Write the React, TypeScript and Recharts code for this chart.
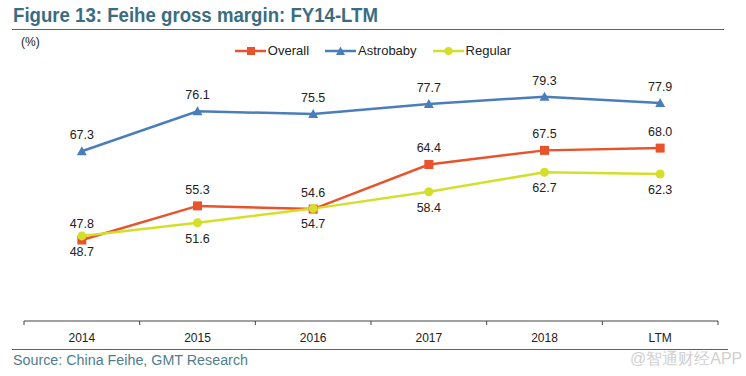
import { LineChart, Line, XAxis, YAxis, LabelList } from 'recharts'

const YEARS = ['2014', '2015', '2016', '2017', '2018', 'LTM']
const OVERALL = [47.8, 55.3, 54.6, 64.4, 67.5, 68.0]
const ASTROBABY = [67.3, 76.1, 75.5, 77.7, 79.3, 77.9]
const REGULAR = [48.7, 51.6, 54.7, 58.4, 62.7, 62.3]

const COLORS = {
  overall: '#e8532b',
  astrobaby: '#4a7ebb',
  regular: '#d3df2a'
}

const TEAL = '#3b6d82'
const W = 746
const H = 376
const PLOT_LEFT = 24
const PLOT_RIGHT = 718
const STEP = (PLOT_RIGHT - PLOT_LEFT) / YEARS.length

const data = YEARS.map((year, i) => ({
  year,
  overall: OVERALL[i],
  astrobaby: ASTROBABY[i],
  regular: REGULAR[i]
}))

const fmt = (v: number) => v.toFixed(1)

function Square(props: any) {
  const { cx, cy } = props
  if (cx == null || cy == null) return null
  return <rect x={cx - 4.5} y={cy - 4.5} width={9} height={9} fill={COLORS.overall} />
}

function Triangle(props: any) {
  const { cx, cy } = props
  if (cx == null || cy == null) return null
  return (
    <path d={`M${cx},${cy - 5} L${cx + 5},${cy + 4} L${cx - 5},${cy + 4} Z`} fill={COLORS.astrobaby} />
  )
}

function Circle(props: any) {
  const { cx, cy } = props
  if (cx == null || cy == null) return null
  return <circle cx={cx} cy={cy} r={4.5} fill={COLORS.regular} />
}

function YearTick(props: any) {
  const { x, y, payload, index } = props
  const last = index === YEARS.length - 1
  return (
    <g>
      <line x1={x - STEP / 2} x2={x - STEP / 2} y1={y} y2={y + 4} stroke="#444" />
      {last && <line x1={x + STEP / 2} x2={x + STEP / 2} y1={y} y2={y + 4} stroke="#444" />}
      <text x={x} y={y + 21} textAnchor="middle" fontSize={12} fill="#222">
        {payload.value}
      </text>
    </g>
  )
}

const LEGEND = [
  { name: 'Overall', color: COLORS.overall, marker: 'square' },
  { name: 'Astrobaby', color: COLORS.astrobaby, marker: 'triangle' },
  { name: 'Regular', color: COLORS.regular, marker: 'circle' }
]

function LegendContent() {
  return (
    <div
      style={{
        position: 'absolute',
        left: 0,
        top: 43,
        width: W,
        display: 'flex',
        justifyContent: 'center',
        gap: 16,
        fontSize: 13,
        lineHeight: '16px',
        color: '#222'
      }}
    >
      {LEGEND.map((item) => (
        <div key={item.name} style={{ display: 'flex', alignItems: 'center' }}>
          <svg width={31} height={10} style={{ marginRight: 2 }}>
            <line x1={0} x2={31} y1={5} y2={5} stroke={item.color} strokeWidth={2.5} />
            {item.marker === 'square' && <rect x={12} y={1} width={8} height={8} fill={item.color} />}
            {item.marker === 'triangle' && <path d="M15.5,0.5 L20,9 L11,9 Z" fill={item.color} />}
            {item.marker === 'circle' && <circle cx={15.5} cy={5} r={4} fill={item.color} />}
          </svg>
          <span>{item.name}</span>
        </div>
      ))}
    </div>
  )
}

export default function App() {
  return (
    <div
      style={{
        position: 'fixed',
        left: 0,
        top: 0,
        width: W,
        height: H,
        background: '#fff',
        fontFamily: 'Arial, "Liberation Sans", sans-serif'
      }}
    >
      <svg width={W} height={H} style={{ position: 'absolute', left: 0, top: 0 }}>
        <text x={13} y={22} fontSize={20} fontWeight="bold" fill={TEAL} textLength={365} lengthAdjust="spacingAndGlyphs">
          Figure 13: Feihe gross margin: FY14-LTM
        </text>
        <line x1={12} x2={724} y1={29.5} y2={29.5} stroke={TEAL} strokeWidth={1} />
        <text x={21} y={46} fontSize={12} fill="#222">
          (%)
        </text>
        <line x1={12} x2={728} y1={349.5} y2={349.5} stroke={TEAL} strokeWidth={1} />
        <text x={13} y={365} fontSize={14} fill="#4f7d90" textLength={235} lengthAdjust="spacingAndGlyphs">
          Source: China Feihe, GMT Research
        </text>
        <text x={630} y={364} fontSize={16} fill="#d0d0d0">
          @智通财经APP
        </text>
      </svg>
      <div style={{ position: 'absolute', left: 0, top: 0 }}>
        <LineChart
          width={W}
          height={H}
          data={data}
          margin={{ top: 48, right: W - PLOT_RIGHT, bottom: 25, left: PLOT_LEFT }}
        >
          <XAxis
            dataKey="year"
            height={30}
            axisLine={{ stroke: '#444' }}
            tickLine={false}
            tickSize={0}
            tickMargin={0}
            padding={{ left: STEP / 2, right: STEP / 2 }}
            tick={<YearTick />}
            interval={0}
          />
          <YAxis hide domain={[30, 90]} />
          <Line
            dataKey="overall"
            name="Overall"
            stroke={COLORS.overall}
            strokeWidth={2.5}
            dot={<Square />}
            activeDot={false}
            isAnimationActive={false}
          >
            <LabelList dataKey="overall" position="top" offset={12} formatter={fmt} fontSize={12.5} fill="#222" />
          </Line>
          <Line
            dataKey="astrobaby"
            name="Astrobaby"
            stroke={COLORS.astrobaby}
            strokeWidth={2.5}
            dot={<Triangle />}
            activeDot={false}
            isAnimationActive={false}
          >
            <LabelList dataKey="astrobaby" position="top" offset={12} formatter={fmt} fontSize={12.5} fill="#222" />
          </Line>
          <Line
            dataKey="regular"
            name="Regular"
            stroke={COLORS.regular}
            strokeWidth={2.5}
            dot={<Circle />}
            activeDot={false}
            isAnimationActive={false}
          >
            <LabelList dataKey="regular" position="bottom" offset={11} formatter={fmt} fontSize={12.5} fill="#222" />
          </Line>
        </LineChart>
      </div>
      <LegendContent />
    </div>
  )
}
